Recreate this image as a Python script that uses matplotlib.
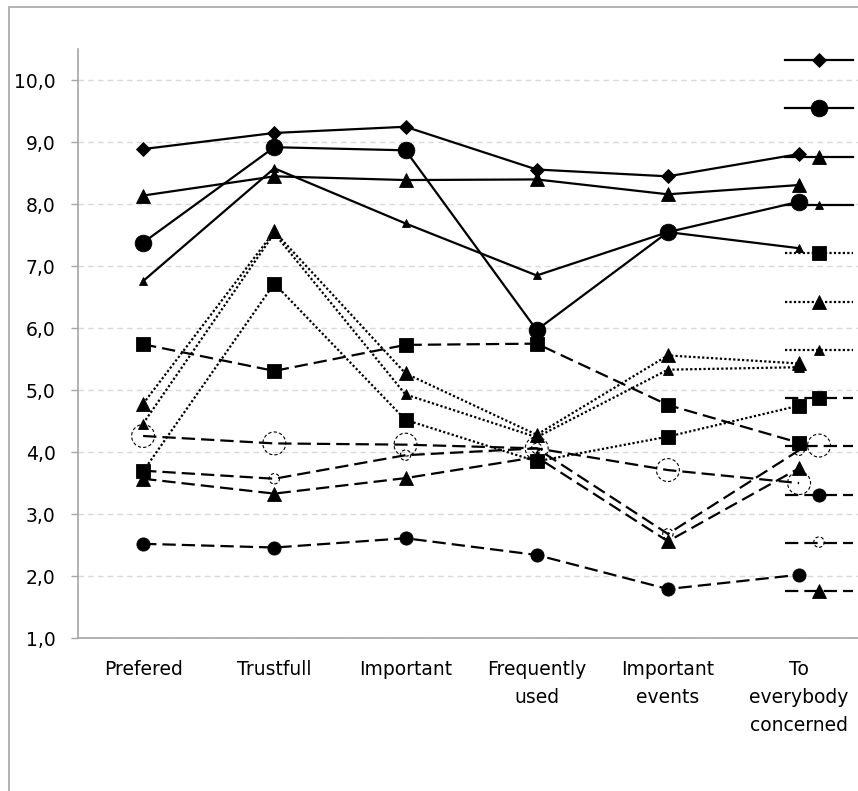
import matplotlib
matplotlib.use("Agg")
import matplotlib.pyplot as plt
from matplotlib.patches import Rectangle
from matplotlib.ticker import FuncFormatter
from matplotlib.legend_handler import HandlerTuple

plt.rcParams['font.family'] = ['DejaVu Sans']

categories = ["Prefered", "Trustfull", "Important", "Frequently\nused",
              "Important\nevents", "To\neverybody\nconcerned"]
y_ticks = [1, 2, 3, 4, 5, 6, 7, 8, 9, 10]

s1 = [8.89, 9.15, 9.25, 8.56, 8.45, 8.81]   # solid, diamond
s2 = [7.38, 8.92, 8.87, 5.97, 7.55, 8.04]   # solid, big circle
s3 = [8.14, 8.45, 8.39, 8.40, 8.16, 8.31]   # solid, triangle
s4 = [6.76, 8.58, 7.69, 6.85, 7.55, 7.29]   # solid, small triangle
s5 = [3.69, 6.72, 4.52, 3.85, 4.25, 4.75]   # dotted, square
s6 = [4.78, 7.56, 5.27, 4.28, 5.56, 5.43]   # dotted, triangle
s7 = [4.46, 7.53, 4.93, 4.24, 5.33, 5.37]   # dotted, small triangle
s8 = [5.74, 5.31, 5.73, 5.75, 4.76, 4.15]   # dashed, square
s9 = [4.26, 4.14, 4.12, 4.06, 3.71, 3.50]   # dashed, big open circle
s10 = [2.52, 2.46, 2.61, 2.34, 1.79, 2.02]  # dashed, circle
s11 = [3.70, 3.57, 3.95, 4.06, 2.68, 4.03]  # dashed, small open circle
s12 = [3.57, 3.33, 3.58, 3.92, 2.56, 3.74]  # dashed, triangle

SOLID = '-'
DOT = (0, (1, 1))
DASH = (0, (6, 2.7))

series = [
    (s1, SOLID, 'D', 7.5, False),
    (s2, SOLID, 'o', 12.0, False),
    (s3, SOLID, '^', 9.5, False),
    (s4, SOLID, '^', 6.0, False),
    (s5, DOT, 's', 9.5, False),
    (s6, DOT, '^', 9.5, False),
    (s7, DOT, '^', 7.5, False),
    (s8, DASH, 's', 9.5, False),
    (s9, DASH, 'o', 16.5, True),
    (s10, DASH, 'o', 9.5, False),
    (s11, DASH, 'o', 7.5, True),
    (s12, DASH, '^', 9.5, False),
]

W, H = 858, 791
fig = plt.figure(figsize=(W / 100, H / 100), dpi=100)

# outer chart frame (cropped on right and bottom)
fig.patches.append(Rectangle((8.7 / W, -0.2), 1.2, (H - 7.3) / H + 0.2,
                             transform=fig.transFigure, fill=False,
                             edgecolor='#a6a6a6', lw=1.2, zorder=0))

ax = fig.add_axes([77.5 / W, (H - 638) / H, 787.2 / W, (638 - 49.3) / H])
x = list(range(len(categories)))

handles = []
for vals, ls, mk, ms, hollow in series:
    if hollow:
        ln, = ax.plot(x, vals, color='black', lw=1.6, linestyle=ls)
        ln.set_dash_capstyle('butt')
        sc = ax.scatter(x, vals, s=ms ** 2, facecolors='none', edgecolors='black',
                        linewidths=0.8, linestyle=(0, (3, 2)), zorder=3)
        handles.append((ln, sc))
    else:
        ln, = ax.plot(x, vals, color='black', lw=1.6, linestyle=ls,
                      marker=mk, markersize=ms, markerfacecolor='black',
                      markeredgecolor='black', markeredgewidth=0.6)
        handles.append(ln)

ax.set_xlim(-0.5, len(categories) - 0.5)
ax.set_ylim(1, 10.5)
ax.set_xticks(x)
ax.set_xticklabels(categories, fontsize=13.5, linespacing=1.58)
ax.set_yticks(y_ticks)
ax.yaxis.set_major_formatter(FuncFormatter(lambda v, p: f"{v:.1f}".replace('.', ',')))
ax.tick_params(axis='y', labelsize=13.5, length=5.3, width=1, color='#a6a6a6', pad=10.5)
ax.tick_params(axis='x', length=0, pad=16)
ax.yaxis.grid(True, color='#d9d9d9', linestyle=(0, (4, 3)), lw=1)
ax.set_axisbelow(True)
for sp in ['top', 'right']:
    ax.spines[sp].set_visible(False)
for sp in ['left', 'bottom']:
    ax.spines[sp].set_color('#a6a6a6')
    ax.spines[sp].set_linewidth(1.2)

fs = 10
leg = fig.legend(handles, [''] * len(handles), loc='upper left',
                 bbox_to_anchor=(785 / W, (H - 51.6) / H),
                 bbox_transform=fig.transFigure, frameon=False,
                 fontsize=fs, handlelength=68 / (fs * 100 / 72),
                 handleheight=2.5, labelspacing=1.605, borderpad=0,
                 borderaxespad=0, handletextpad=0, scatteryoffsets=[0.36],
                 handler_map={tuple: HandlerTuple(ndivide=1, pad=0)})

fig.savefig("out.png", dpi=100)
